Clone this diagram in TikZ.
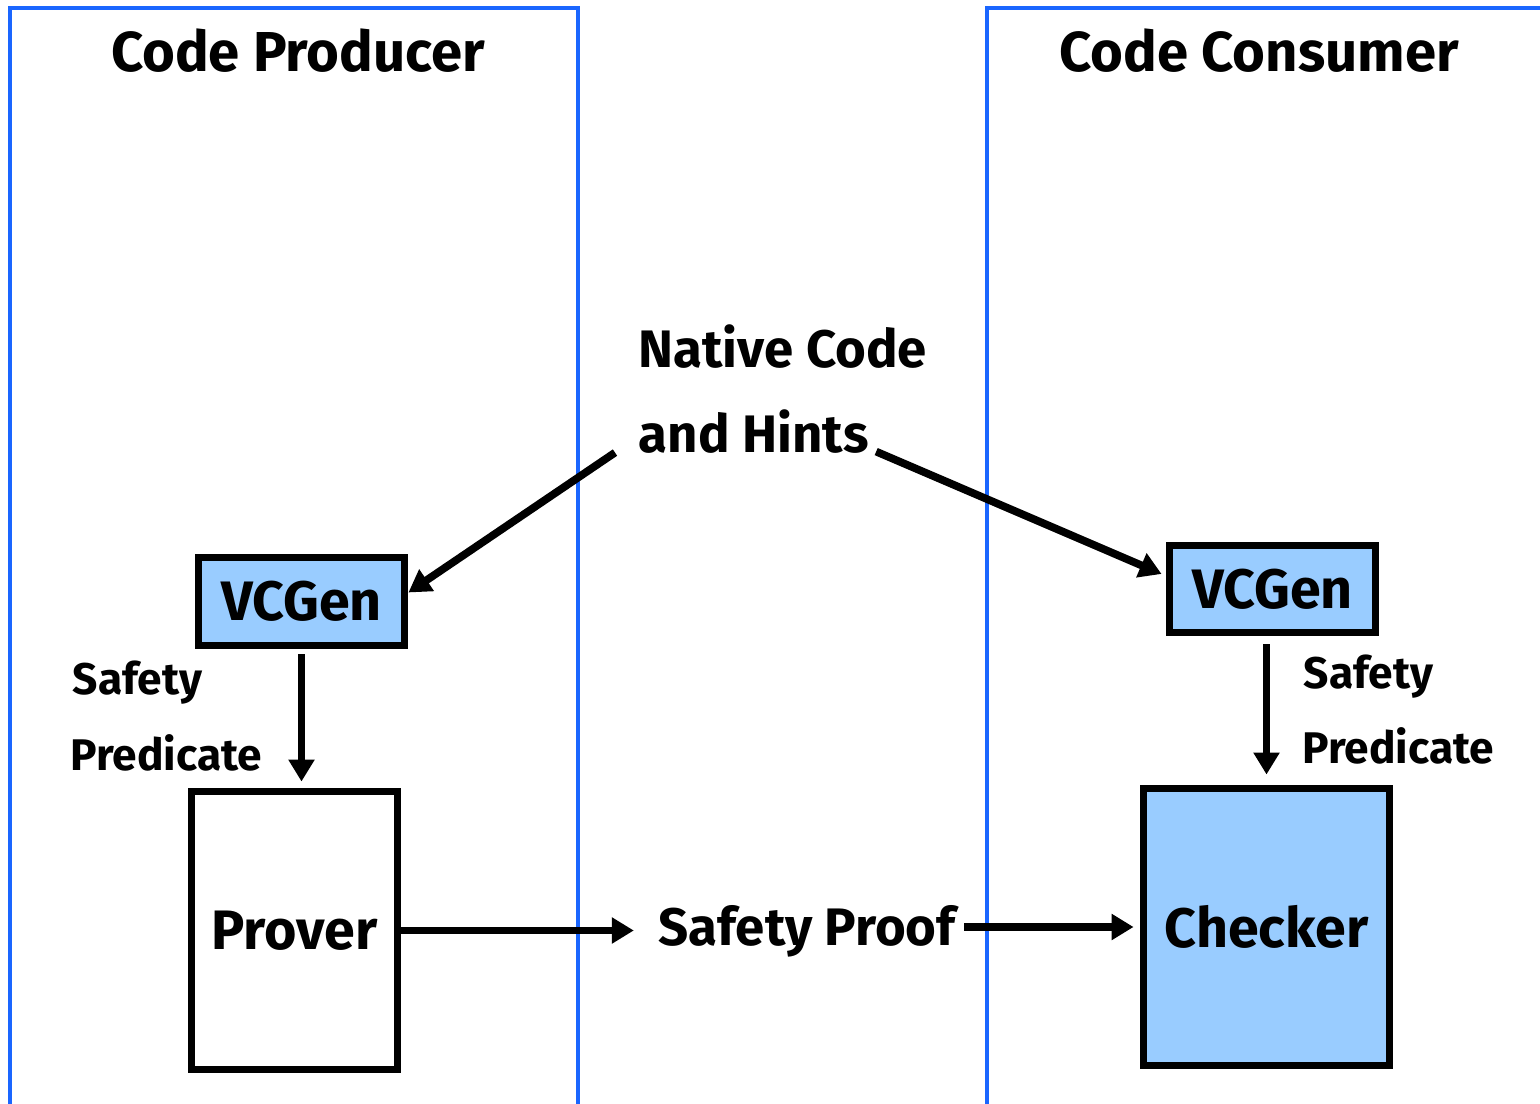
\documentclass[tikz,border=0pt]{standalone}
\usepackage{fontspec}
\setmainfont{Fira Sans}
\usetikzlibrary{arrows.meta}
\definecolor{panelblue}{HTML}{1A66FF}
\definecolor{boxblue}{HTML}{99CCFF}

\begin{document}
\begin{tikzpicture}[x=0.01cm,y=-0.01cm,
    panel/.style={draw=panelblue,line width=1.2pt},
    unit/.style={draw,line width=2.2pt,inner sep=0pt,font=\fontsize{15.8}{19}\selectfont\bfseries},
    flow/.style={-{Triangle[length=0.22cm,width=0.25cm]},line width=2.2pt},
    heading/.style={anchor=base,inner sep=0pt,font=\fontsize{16}{19}\selectfont\bfseries},
    msg/.style={anchor=base west,inner sep=0pt,font=\fontsize{15}{18}\selectfont\bfseries},
    lbl/.style={anchor=base west,inner sep=0pt,font=\fontsize{12.6}{15}\selectfont\bfseries}]
    \useasboundingbox (0,0) rectangle (1540,1104);
    % the two sides
    \draw[panel] (10,8) rectangle (578,1130);
    \draw[panel] (987,8) rectangle (1560,1130);
    \node[heading] (prodtitle) at (298,72) {Code Producer};
    \node[heading] (constitle) at (1259,72) {Code Consumer};
    % boxes
    \node[unit,fill=boxblue,minimum width=2.06cm,minimum height=0.88cm] (vcgenL) at (301.5,601.5) {VCGen};
    \node[unit,fill=boxblue,minimum width=2.06cm,minimum height=0.87cm] (vcgenR) at (1272.5,589) {VCGen};
    \node[unit,fill=white,minimum width=2.06cm,minimum height=2.78cm] (prover) at (294.5,930.5) {Prover};
    \node[unit,fill=boxblue,minimum width=2.46cm,minimum height=2.77cm] (checker) at (1266.5,927) {Checker};
    % what travels between them
    \node[msg] (native) at (638,368) {Native Code};
    \node[msg] (hints) at (638,453) {and Hints};
    \node[msg,anchor=base] (proof) at (807,945) {Safety Proof};
    \node[lbl] (safeL) at (72,695) {Safety};
    \node[lbl] (predL) at (70,771) {Predicate};
    \node[lbl] (safeR) at (1303,689) {Safety};
    \node[lbl] (predR) at (1302,764) {Predicate};
    % arrows
    \draw[flow] ([xshift=-0.23cm,yshift=0.02cm]hints.south west) -- ([yshift=0.09cm]vcgenL.east);
    \draw[flow] ([xshift=0.07cm,yshift=0.03cm]hints.south east) -- ([xshift=-0.04cm,yshift=0.15cm]vcgenR.west);
    \draw[flow,shorten <=0.05cm,shorten >=0.06cm] (vcgenL.south) -- (prover.north -| vcgenL.south);
    \draw[flow,shorten <=0.08cm,shorten >=0.1cm] (vcgenR.south -| checker.north) -- (checker.north);
    \draw[flow] (prover.east) -- ([xshift=-0.24cm]prover.east -| proof.west);
    \draw[flow,shorten >=0.06cm] ([xshift=0.08cm]checker.west -| proof.east) -- (checker.west);
\end{tikzpicture}
\end{document}
